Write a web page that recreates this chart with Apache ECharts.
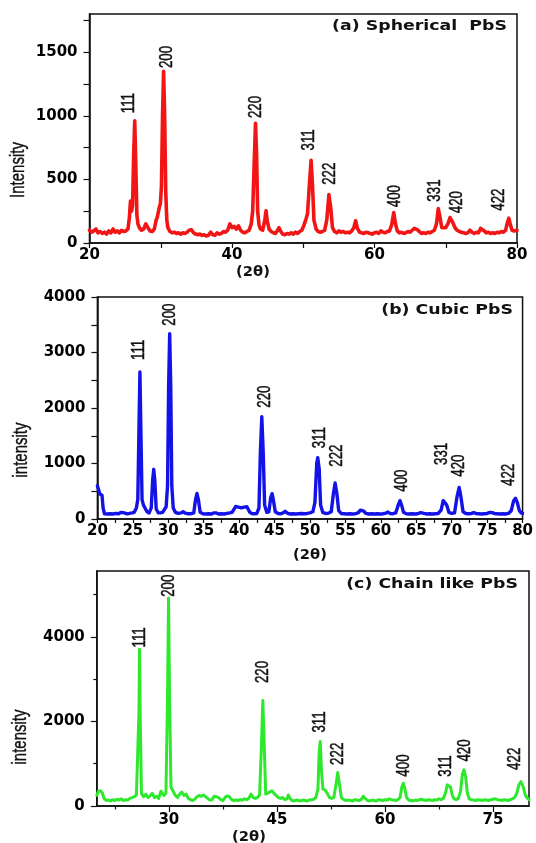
<!DOCTYPE html>
<html><head><meta charset="utf-8">
<script src="https://cdn.jsdelivr.net/npm/echarts@6/dist/echarts.min.js"></script>
<style>html,body{margin:0;padding:0;background:#fff}#c{width:536px;height:843px}</style>
</head><body><div id="c"></div>
<script>
// ---------- (a) Spherical PbS : [2theta, intensity] ----------
const spectrumA = [[20.0,100],[20.3,85],[20.6,95],[20.9,110],[21.2,80],[21.5,90],[21.8,75],[22.1,85],[22.4,70],[22.7,95],[23.0,80],[23.3,110],[23.6,85],[23.9,95],[24.2,80],[24.5,100],[24.8,90],[25.1,95],[25.4,110],[25.6,200],[25.75,330],[25.9,250],[26.05,300],[26.2,700],[26.35,960],[26.5,600],[26.65,220],[26.8,150],[27.0,120],[27.3,100],[27.6,110],[27.9,150],[28.05,160],[28.2,120],[28.5,95],[28.8,90],[29.1,110],[29.35,180],[29.5,200],[29.8,280],[29.95,310],[30.1,450],[30.25,1000],[30.4,1350],[30.55,1000],[30.7,400],[30.85,180],[31.0,120],[31.3,90],[31.6,80],[31.9,85],[32.2,75],[32.5,80],[32.8,70],[33.1,80],[33.4,75],[33.7,85],[34.0,100],[34.3,105],[34.6,80],[34.9,70],[35.2,65],[35.5,70],[35.8,60],[36.1,65],[36.4,55],[36.7,60],[37.0,85],[37.3,65],[37.6,60],[37.9,80],[38.2,70],[38.5,75],[38.8,90],[39.1,85],[39.4,100],[39.7,150],[40.0,120],[40.3,130],[40.6,110],[40.9,135],[41.2,100],[41.5,85],[41.8,80],[42.1,90],[42.4,100],[42.7,150],[42.9,250],[43.1,600],[43.3,940],[43.45,700],[43.6,250],[43.8,140],[44.0,110],[44.3,100],[44.6,180],[44.78,254],[44.95,170],[45.2,110],[45.5,90],[45.8,80],[46.1,75],[46.4,100],[46.6,120],[46.8,95],[47.1,70],[47.4,65],[47.7,75],[48.0,70],[48.3,80],[48.6,70],[48.9,85],[49.2,75],[49.5,90],[49.8,100],[50.1,140],[50.4,190],[50.6,230],[50.85,450],[51.1,650],[51.3,450],[51.5,180],[51.8,110],[52.1,90],[52.4,85],[52.7,90],[53.0,100],[53.3,180],[53.6,380],[53.85,280],[54.1,120],[54.4,90],[54.7,80],[55.0,95],[55.3,85],[55.6,90],[55.9,80],[56.2,85],[56.5,80],[56.8,95],[57.1,120],[57.35,175],[57.6,115],[57.9,85],[58.2,80],[58.5,75],[58.8,85],[59.1,80],[59.4,75],[59.7,70],[60.0,80],[60.3,85],[60.6,75],[60.9,95],[61.2,85],[61.5,80],[61.8,90],[62.1,95],[62.4,140],[62.7,240],[62.95,150],[63.2,95],[63.5,80],[63.8,85],[64.1,75],[64.4,80],[64.7,90],[65.0,85],[65.3,100],[65.6,115],[65.8,120],[66.0,105],[66.3,90],[66.6,75],[66.9,80],[67.2,75],[67.5,85],[67.8,80],[68.1,90],[68.4,100],[68.7,150],[68.95,270],[69.2,200],[69.45,120],[69.7,110],[70.0,120],[70.3,150],[70.6,200],[70.8,205],[71.0,160],[71.3,120],[71.6,100],[71.9,90],[72.2,85],[72.5,80],[72.8,75],[73.1,80],[73.4,100],[73.7,85],[74.0,75],[74.3,85],[74.6,80],[74.9,115],[75.1,120],[75.4,95],[75.7,80],[76.0,85],[76.3,75],[76.6,80],[76.9,75],[77.2,85],[77.5,80],[77.8,90],[78.1,85],[78.4,100],[78.65,160],[78.85,195],[79.05,150],[79.3,100],[79.6,95],[80.0,100]];
const hklA  = ['111','200','220','311','222','400','331','420','422'];
const hklXA = [25.5, 30.9, 43.35, 50.77, 53.7, 62.8, 68.5, 71.6, 77.4];
const hklYA = [1020, 1375, 982, 727, 457, 281, 325, 234, 254];
const xTicksA  = [20,30,40,50,60,70,80];
const xLabelsA = [20,40,60,80];
const yTicksA  = [0,250,500,750,1000,1250,1500,1750];
const yLabelsA = [0,500,1000,1500];

// ---------- (b) Cubic PbS ----------
const spectrumB = [[20.0,600],[20.2,590],[20.35,450],[20.5,450],[20.65,430],[20.8,200],[21.0,95],[21.4,90],[21.8,95],[22.2,90],[22.6,100],[23.0,95],[23.3,120],[23.55,150],[23.8,110],[24.1,95],[24.5,100],[24.9,110],[25.2,120],[25.5,200],[25.7,350],[25.85,1500],[26.0,2650],[26.15,1500],[26.3,350],[26.5,250],[26.75,220],[27.0,130],[27.3,110],[27.6,200],[27.8,700],[27.95,895],[28.1,700],[28.3,180],[28.6,110],[28.9,110],[29.2,120],[29.5,180],[29.7,220],[29.9,600],[30.05,2400],[30.2,3340],[30.35,2400],[30.5,600],[30.7,200],[31.0,120],[31.4,100],[31.8,110],[32.1,130],[32.4,105],[32.8,95],[33.2,95],[33.6,110],[33.85,350],[34.05,460],[34.25,350],[34.5,120],[34.9,95],[35.3,90],[35.7,95],[36.1,90],[36.4,110],[36.6,145],[36.8,110],[37.1,90],[37.5,95],[37.9,90],[38.3,100],[38.7,110],[39.0,120],[39.3,180],[39.5,225],[39.7,200],[39.9,215],[40.1,230],[40.3,200],[40.5,225],[40.7,215],[40.9,180],[41.1,220],[41.3,190],[41.5,120],[41.8,100],[42.2,95],[42.5,100],[42.8,200],[43.0,1200],[43.2,1845],[43.4,1200],[43.6,250],[43.9,120],[44.2,130],[44.45,380],[44.65,456],[44.85,330],[45.1,130],[45.5,100],[45.9,95],[46.2,110],[46.5,140],[46.8,105],[47.2,90],[47.6,95],[48.0,90],[48.4,95],[48.8,100],[49.2,95],[49.6,100],[50.0,110],[50.4,130],[50.7,300],[50.95,1000],[51.1,1105],[51.3,900],[51.5,250],[51.8,120],[52.2,100],[52.6,105],[53.0,130],[53.3,450],[53.55,650],[53.8,450],[54.05,150],[54.4,100],[54.8,95],[55.2,90],[55.6,95],[56.0,90],[56.4,95],[56.8,110],[57.1,160],[57.35,190],[57.6,140],[57.9,100],[58.3,90],[58.7,95],[59.1,90],[59.5,95],[59.9,90],[60.3,95],[60.7,105],[61.0,125],[61.3,100],[61.7,95],[62.1,110],[62.45,250],[62.7,330],[62.95,240],[63.2,120],[63.6,95],[64.0,90],[64.4,95],[64.8,90],[65.2,95],[65.6,115],[65.85,120],[66.1,100],[66.5,90],[66.9,95],[67.3,90],[67.7,95],[68.1,100],[68.5,160],[68.8,330],[69.05,360],[69.3,250],[69.6,120],[70.0,100],[70.4,110],[70.75,400],[71.05,570],[71.3,400],[71.6,130],[72.0,100],[72.4,95],[72.8,100],[73.1,115],[73.4,100],[73.8,95],[74.2,90],[74.6,95],[75.0,100],[75.4,120],[75.7,115],[76.0,100],[76.4,95],[76.8,90],[77.2,95],[77.6,90],[78.0,100],[78.4,150],[78.75,330],[79.0,373],[79.25,300],[79.55,150],[79.8,110],[80.0,100]];
const hklB  = ['111','200','220','311','222','400','331','420','422'];
const hklXB = [25.78, 30.22, 43.61, 51.33, 53.73, 62.89, 68.53, 70.99, 78.07];
const hklYB = [2865, 3483, 2005, 1273, 942, 492, 973, 762, 595];
const xTicksB  = [20,22.5,25,27.5,30,32.5,35,37.5,40,42.5,45,47.5,50,52.5,55,57.5,60,62.5,65,67.5,70,72.5,75,77.5,80];
const xLabelsB = [20,25,30,35,40,45,50,55,60,65,70,75,80];
const yTicksB  = [0,500,1000,1500,2000,2500,3000,3500,4000];
const yLabelsB = [0,1000,2000,3000,4000];

// ---------- (c) Chain like PbS ----------
const spectrumC = [[20.0,250],[20.2,350],[20.5,360],[20.8,300],[21.0,180],[21.3,130],[21.6,140],[21.9,120],[22.2,150],[22.5,130],[22.8,160],[23.1,140],[23.4,170],[23.7,130],[24.0,150],[24.3,140],[24.6,180],[24.9,200],[25.2,220],[25.5,260],[25.7,300],[25.85,2200],[25.93,3710],[26.02,2200],[26.2,300],[26.5,220],[26.8,280],[27.1,200],[27.4,240],[27.7,300],[28.0,200],[28.3,230],[28.6,180],[28.9,350],[29.1,380],[29.3,250],[29.6,300],[29.82,2600],[29.96,4920],[30.1,2600],[30.3,450],[30.6,350],[30.9,250],[31.2,200],[31.5,280],[31.8,330],[32.1,250],[32.4,280],[32.7,180],[33.0,150],[33.3,130],[33.6,160],[33.9,220],[34.2,250],[34.5,230],[34.8,260],[35.1,220],[35.4,180],[35.7,140],[36.0,150],[36.3,230],[36.6,220],[36.9,200],[37.2,150],[37.5,130],[37.8,200],[38.1,240],[38.4,220],[38.7,150],[39.0,130],[39.3,140],[39.6,130],[39.9,150],[40.2,140],[40.5,170],[40.8,150],[41.1,180],[41.4,280],[41.7,200],[42.0,180],[42.3,200],[42.6,260],[42.85,1400],[43.05,2495],[43.25,1400],[43.45,280],[43.7,250],[44.0,330],[44.3,360],[44.6,300],[44.9,250],[45.2,200],[45.5,180],[45.8,200],[46.1,150],[46.4,170],[46.6,260],[46.8,180],[47.1,130],[47.4,120],[47.7,140],[48.0,130],[48.3,120],[48.6,140],[48.9,130],[49.2,120],[49.5,140],[49.8,150],[50.1,160],[50.4,200],[50.7,400],[50.88,1300],[51.02,1525],[51.2,800],[51.4,400],[51.7,380],[52.0,300],[52.3,200],[52.6,180],[52.9,200],[53.2,500],[53.45,795],[53.7,500],[53.95,200],[54.3,150],[54.6,130],[54.9,140],[55.2,130],[55.5,120],[55.8,150],[56.1,140],[56.4,130],[56.7,150],[57.0,230],[57.3,170],[57.6,130],[57.9,120],[58.2,140],[58.5,130],[58.8,120],[59.1,150],[59.4,140],[59.7,130],[60.0,150],[60.3,140],[60.6,170],[60.9,150],[61.2,140],[61.5,130],[61.8,150],[62.1,200],[62.35,450],[62.55,540],[62.75,420],[63.0,200],[63.3,140],[63.6,130],[63.9,120],[64.2,140],[64.5,130],[64.8,150],[65.1,160],[65.4,140],[65.7,130],[66.0,150],[66.3,140],[66.6,130],[66.9,150],[67.2,140],[67.5,170],[67.8,150],[68.1,180],[68.4,300],[68.65,500],[68.87,540],[69.1,450],[69.35,250],[69.6,170],[69.9,150],[70.2,180],[70.5,350],[70.75,750],[70.97,855],[71.2,700],[71.45,300],[71.7,170],[72.0,150],[72.3,140],[72.6,130],[72.9,150],[73.2,140],[73.5,130],[73.8,150],[74.1,140],[74.4,130],[74.7,150],[75.0,160],[75.3,170],[75.6,150],[75.9,140],[76.2,130],[76.5,150],[76.8,140],[77.1,130],[77.4,150],[77.7,170],[78.0,200],[78.3,300],[78.6,500],[78.9,575],[79.2,450],[79.5,250],[79.8,180],[80.0,150]];
const hklC  = ['111','200','220','311','222','400','311','420','422'];
const hklXC = [26.0, 30.06, 43.0, 51.0, 53.45, 62.55, 68.48, 71.1, 78.0];
const hklYC = [3750, 4950, 2909, 1738, 972, 695, 695, 1051, 854];
const xTicksC      = [30,45,60,75];
const xMinorTicksC = [22.5,37.5,52.5,67.5];
const xLabelsC     = [30,45,60,75];
const yTicksC      = [0,2000,4000];
const yMinorTicksC = [1000,3000,5000];
const yLabelsC     = [0,2000,4000];

const panelTitles = ['(a) Spherical  PbS', '(b) Cubic PbS', '(c) Chain like PbS'];
const yTitles = ['Intensity', 'intensity', 'intensity'];
const xTitle = '(2\u03b8)';

const NARROW = '"Liberation Sans", Arial, sans-serif';
const TICKFONT = { fontFamily: '"DejaVu Sans", sans-serif', fontWeight: 'bold', fontSize: 15, color: '#000',
  formatter: v => String(v) };

const panels = [
  { data: spectrumA, color: '#f21515', lw: 3.6, rect: { left: 89.5, top: 14, width: 427.5, height: 229 },
    yMax: 1800, xT: xTicksA, xL: xLabelsA, yT: yTicksA, yL: yLabelsA, hkl: hklA, hx: hklXA, hy: hklYA,
    xMargin: 5, tickLen: 5 },
  { data: spectrumB, color: '#1313e8', lw: 3.4, rect: { left: 97.4, top: 297, width: 425.6, height: 222 },
    yMax: 4000, xT: xTicksB, xL: xLabelsB, yT: yTicksB, yL: yLabelsB, hkl: hklB, hx: hklXB, hy: hklYB,
    xMargin: 5, tickLen: 4 },
  { data: spectrumC, color: '#2ee82e', lw: 3.0, rect: { left: 96.8, top: 571, width: 432.2, height: 235 },
    yMax: 5560, xT: xTicksC, xL: xLabelsC, yT: yTicksC, yL: yLabelsC, hkl: hklC, hx: hklXC, hy: hklYC,
    xMargin: 7, tickLen: 6, xMinor: xMinorTicksC, yMinor: yMinorTicksC }
];

const grid = [], xAxis = [], yAxis = [], series = [];
panels.forEach((p, i) => {
  grid.push(Object.assign({ show: true, borderColor: '#111', borderWidth: 1.5, backgroundColor: 'transparent', containLabel: false }, p.rect));
  xAxis.push({ gridIndex: i, type: 'value', min: 20, max: 80,
    axisLine: { show: true, onZero: false, lineStyle: { color: '#111', width: 1.5 } },
    axisTick: { show: true, inside: false, length: p.tickLen, customValues: p.xT, lineStyle: { color: '#111', width: 1.2 } },
    axisLabel: Object.assign({ customValues: p.xL, margin: p.xMargin }, TICKFONT),
    splitLine: { show: false } });
  yAxis.push({ gridIndex: i, type: 'value', min: 0, max: p.yMax,
    axisLine: { show: true, onZero: false, lineStyle: { color: '#111', width: 1.5 } },
    axisTick: { show: true, inside: false, length: 6, customValues: p.yT, lineStyle: { color: '#111', width: 1.2 } },
    axisLabel: Object.assign({ customValues: p.yL, margin: 12 }, TICKFONT),
    splitLine: { show: false } });
  series.push({ type: 'line', xAxisIndex: i, yAxisIndex: i, data: p.data, symbol: 'none', showSymbol: false,
    lineStyle: { color: p.color, width: p.lw, join: 'round', cap: 'round' }, silent: true, animation: false, z: 2 });
  // hkl peak labels, placed through the axes' scales, drawn as rotated condensed text
  series.push({ type: 'custom', xAxisIndex: i, yAxisIndex: i, silent: true, animation: false, z: 5, clip: false,
    data: p.hx.map((x, k) => [x, p.hy[k]]),
    renderItem: (params, api) => {
      const pt = api.coord([api.value(0), api.value(1)]);
      return { type: 'text', x: pt[0], y: pt[1], rotation: Math.PI / 2, scaleX: 0.7,
        style: { text: p.hkl[params.dataIndex], x: 0, y: 0, font: '19px ' + NARROW, fill: '#111',
          stroke: '#111', lineWidth: 0.5,
          textAlign: 'left', align: 'left', textVerticalAlign: 'middle', verticalAlign: 'middle' } };
    } });
});
// minor tick overlay for panel (c)
{
  const p = panels[2];
  grid.push(Object.assign({ show: false }, p.rect));
  xAxis.push({ gridIndex: 3, type: 'value', min: 20, max: 80, axisLine: { show: false },
    axisTick: { show: true, length: 3.5, customValues: p.xMinor, lineStyle: { color: '#111', width: 1.2 } },
    axisLabel: { show: false }, splitLine: { show: false } });
  yAxis.push({ gridIndex: 3, type: 'value', min: 0, max: p.yMax, axisLine: { show: false },
    axisTick: { show: true, length: 3.5, customValues: p.yMinor, lineStyle: { color: '#111', width: 1.2 } },
    axisLabel: { show: false }, splitLine: { show: false } });
}

function hText(txt, x, y, size, sx, align) {
  return { type: 'text', x: x, y: y, scaleX: sx, z: 10, silent: true,
    style: { text: txt, x: 0, y: 0, font: 'bold ' + size + 'px "DejaVu Sans", sans-serif', fill: '#111',
      textAlign: align, align: align, textVerticalAlign: 'middle', verticalAlign: 'middle' } };
}
function vText(txt, x, y, size) {
  return { type: 'text', x: x, y: y, rotation: Math.PI / 2, scaleX: 0.75, z: 10, silent: true,
    style: { text: txt, x: 0, y: 0, font: size + 'px ' + NARROW, fill: '#111', stroke: '#111', lineWidth: 0.4,
      textAlign: 'center', align: 'center', textVerticalAlign: 'middle', verticalAlign: 'middle' } };
}
const graphic = [
  hText(panelTitles[0], 507, 26, 14, 1.24, 'right'),
  hText(panelTitles[1], 513, 310, 14, 1.24, 'right'),
  hText(panelTitles[2], 518, 584, 14, 1.24, 'right'),
  hText(xTitle, 253, 272, 14, 1.05, 'center'),
  hText(xTitle, 310, 555, 14, 1.05, 'center'),
  hText(xTitle, 249, 837, 14, 1.05, 'center'),
  vText(yTitles[0], 18, 170, 20),
  vText(yTitles[1], 21, 450, 20),
  vText(yTitles[2], 20, 737, 20)
];

const chart = echarts.init(document.getElementById('c'), null, { renderer: 'canvas' });
chart.setOption({ animation: false, backgroundColor: '#fff', grid, xAxis, yAxis, series, graphic });
</script></body></html>
